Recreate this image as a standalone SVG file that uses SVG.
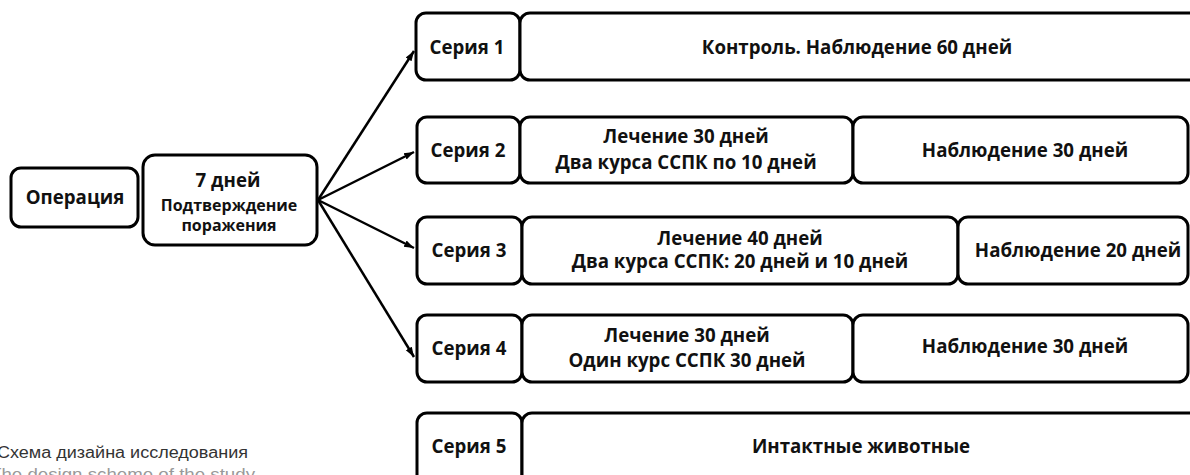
<svg xmlns="http://www.w3.org/2000/svg" width="1190" height="475" viewBox="0 0 1190 475">
<style>
.b{fill:#fff;stroke:#000;stroke-width:3}
.t{font-family:"Open Sans","DejaVu Sans",sans-serif;font-weight:bold;font-size:18.7px;fill:#111;text-anchor:middle}
.s{font-size:16px}
.c1{font-family:"Liberation Sans",Arial,sans-serif;font-size:16px;fill:#333}
.c2{font-family:"Liberation Sans",Arial,sans-serif;font-size:16px;fill:#999}
.a{fill:none;stroke:#000;stroke-width:2.5}
</style>
<defs>
<marker id="ah" viewBox="0 0 10 10" refX="10" refY="5" markerWidth="4" markerHeight="4" markerUnits="strokeWidth" orient="auto">
<path d="M0,1.5 L10,5 L0,8.5 Z" fill="#000"/>
</marker>
</defs>
<rect width="1190" height="475" fill="#fff"/>
<g id="connectors">
<line class="a" x1="318" y1="200" x2="414" y2="51" marker-end="url(#ah)"/>
<line class="a" x1="318" y1="200" x2="414" y2="152" marker-end="url(#ah)"/>
<line class="a" x1="318" y1="200" x2="414" y2="248" marker-end="url(#ah)"/>
<line class="a" x1="318" y1="200" x2="414" y2="357" marker-end="url(#ah)"/>
</g>
<g id="operation">
<rect class="b" x="11" y="168" width="127" height="59" rx="10"/>
<text class="t" x="75" y="204">Операция</text>
</g>
<g id="confirm">
<rect class="b" x="143" y="155" width="174" height="90" rx="12"/>
<text class="t" x="228" y="187">7 дней</text>
<text class="t s" x="229" y="211">Подтверждение</text>
<text class="t s" x="229" y="231">поражения</text>
</g>
<g id="series1">
<rect class="b" x="416" y="13" width="104" height="67" rx="10"/>
<text class="t" x="467" y="54">Серия 1</text>
<rect class="b" x="520" y="13" width="690" height="67" rx="10"/>
<text class="t" x="857" y="54">Контроль. Наблюдение 60 дней</text>
</g>
<g id="series2">
<rect class="b" x="417" y="117" width="103" height="66" rx="10"/>
<text class="t" x="468" y="157">Серия 2</text>
<rect class="b" x="520" y="117" width="333" height="66" rx="10"/>
<text class="t" x="686" y="143">Лечение 30 дней</text>
<text class="t" x="686" y="169">Два курса ССПК по 10 дней</text>
<rect class="b" x="853" y="117" width="335" height="66" rx="10"/>
<text class="t" x="1025" y="157">Наблюдение 30 дней</text>
</g>
<g id="series3">
<rect class="b" x="417" y="217" width="105" height="67" rx="10"/>
<text class="t" x="469" y="257">Серия 3</text>
<rect class="b" x="522" y="217" width="436" height="67" rx="10"/>
<text class="t" x="740" y="245">Лечение 40 дней</text>
<text class="t" x="740" y="268">Два курса ССПК: 20 дней и 10 дней</text>
<rect class="b" x="958" y="217" width="230" height="67" rx="10"/>
<text class="t" x="1078" y="257">Наблюдение 20 дней</text>
</g>
<g id="series4">
<rect class="b" x="417" y="315" width="105" height="67" rx="10"/>
<text class="t" x="469" y="355">Серия 4</text>
<rect class="b" x="522" y="315" width="331" height="67" rx="10"/>
<text class="t" x="687" y="342">Лечение 30 дней</text>
<text class="t" x="687" y="367">Один курс ССПК 30 дней</text>
<rect class="b" x="853" y="315" width="335" height="67" rx="10"/>
<text class="t" x="1025" y="353">Наблюдение 30 дней</text>
</g>
<g id="series5">
<rect class="b" x="417" y="413" width="105" height="80" rx="10"/>
<text class="t" x="469" y="453">Серия 5</text>
<rect class="b" x="522" y="413" width="690" height="80" rx="10"/>
<text class="t" x="861" y="453">Интактные животные</text>
</g>
<g id="caption">
<text class="c1" x="-3" y="458" textLength="251" lengthAdjust="spacingAndGlyphs">Схема дизайна исследования</text>
<text class="c2" x="-10" y="480" textLength="265" lengthAdjust="spacingAndGlyphs">The design scheme of the study</text>
</g>
</svg>
